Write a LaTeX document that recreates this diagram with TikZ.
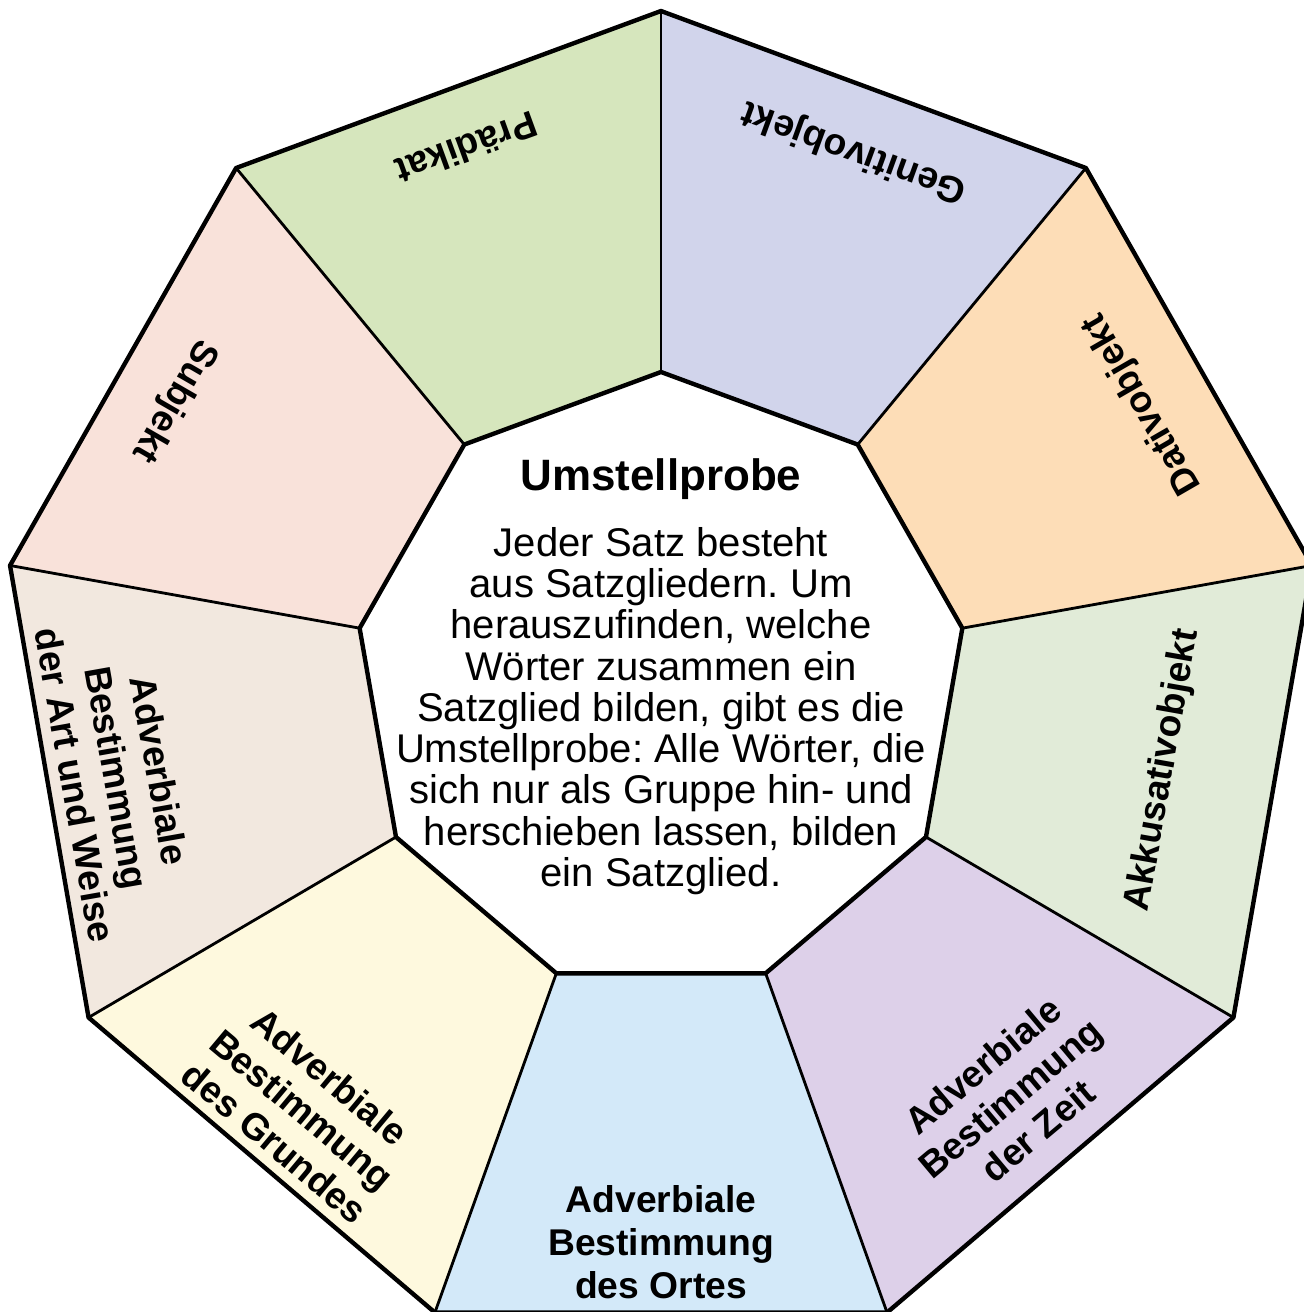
\documentclass[tikz,border=0pt]{standalone}
\usepackage{fontspec}
\setmainfont{Liberation Sans}
\frenchspacing
\definecolor{fpraedikat}{HTML}{D6E6BD}
\definecolor{fgenitiv}{HTML}{D1D4EB}
\definecolor{fdativ}{HTML}{FDDDB7}
\definecolor{fakkusativ}{HTML}{E1EBD8}
\definecolor{fzeit}{HTML}{DDD0E9}
\definecolor{fort}{HTML}{D3E9F9}
\definecolor{fgrund}{HTML}{FEF9DE}
\definecolor{fart}{HTML}{F2E8DF}
\definecolor{fsubjekt}{HTML}{F9E2DA}
\begin{document}
\begin{tikzpicture}
                \tikzstyle{rand}=[line width=1.25pt, line join=round]
                \tikzstyle{speiche}=[line width=0.8pt]
                \tikzstyle{glied}=[font=\fontsize{10.6}{12.2}\selectfont\bfseries, align=center, inner sep=0pt]

                \useasboundingbox (-6.61,-6.30) rectangle (6.43,6.82);
                \clip (-6.61,-6.30) rectangle (6.43,6.82);

                % Segmente: Mittelwinkel / Farbe / Name / Abstand / Text
                \foreach \m/\farbe/\name/\r/\txt in {
                        110/fpraedikat/praedikat/5.68/{Prädikat},
                        70/fgenitiv/genitiv/5.65/{Genitivobjekt},
                        30/fdativ/dativ/5.56/{Dativobjekt},
                        -10/fakkusativ/akkusativ/5.10/{Akkusativobjekt},
                        -50/fzeit/zeit/5.43/{Adverbiale\\Bestimmung\\der Zeit},
                        -90/fort/ort/5.60/{Adverbiale\\Bestimmung\\des Ortes},
                        -130/fgrund/grund/5.58/{Adverbiale\\Bestimmung\\des Grundes},
                        -170/fart/art/5.52/{Adverbiale\\Bestimmung\\der Art und Weise},
                        150/fsubjekt/subjekt/5.62/{Subjekt}} {
                    \fill[\farbe] ({\m-20}:6.61 and 6.71) -- ({\m+20}:6.61 and 6.71)
                        -- ({\m+20}:3.06 and 3.10) -- ({\m-20}:3.06 and 3.10) -- cycle;
                    \node[glied, rotate=\m+90] (\name) at (\m:\r) {\txt};
                }

                \foreach \w in {90,50,...,-230}
                    \draw[speiche] (\w:3.06 and 3.10) -- (\w:6.61 and 6.71);

                \draw[rand] (90:6.61 and 6.71) \foreach \w in {50,10,...,-230} {-- (\w:6.61 and 6.71)} -- cycle;
                \draw[rand, fill=white] (90:3.06 and 3.10) \foreach \w in {50,10,...,-230} {-- (\w:3.06 and 3.10)} -- cycle;

                \node[font=\fontsize{12.5}{14}\selectfont\bfseries] (titel) at (0,2.03) {Umstellprobe};
                \node[font=\fontsize{11.4}{11.74}\selectfont, align=center, inner sep=0pt] (erklaerung) at (0,-0.29)
                    {Jeder Satz besteht\\aus Satzgliedern. Um\\herauszufinden, welche\\Wörter zusammen ein\\Satzglied bilden, gibt es die\\Umstellprobe: Alle Wörter, die\\sich nur als Gruppe hin- und\\herschieben lassen, bilden\\ein Satzglied.};
            \end{tikzpicture}
\end{document}
